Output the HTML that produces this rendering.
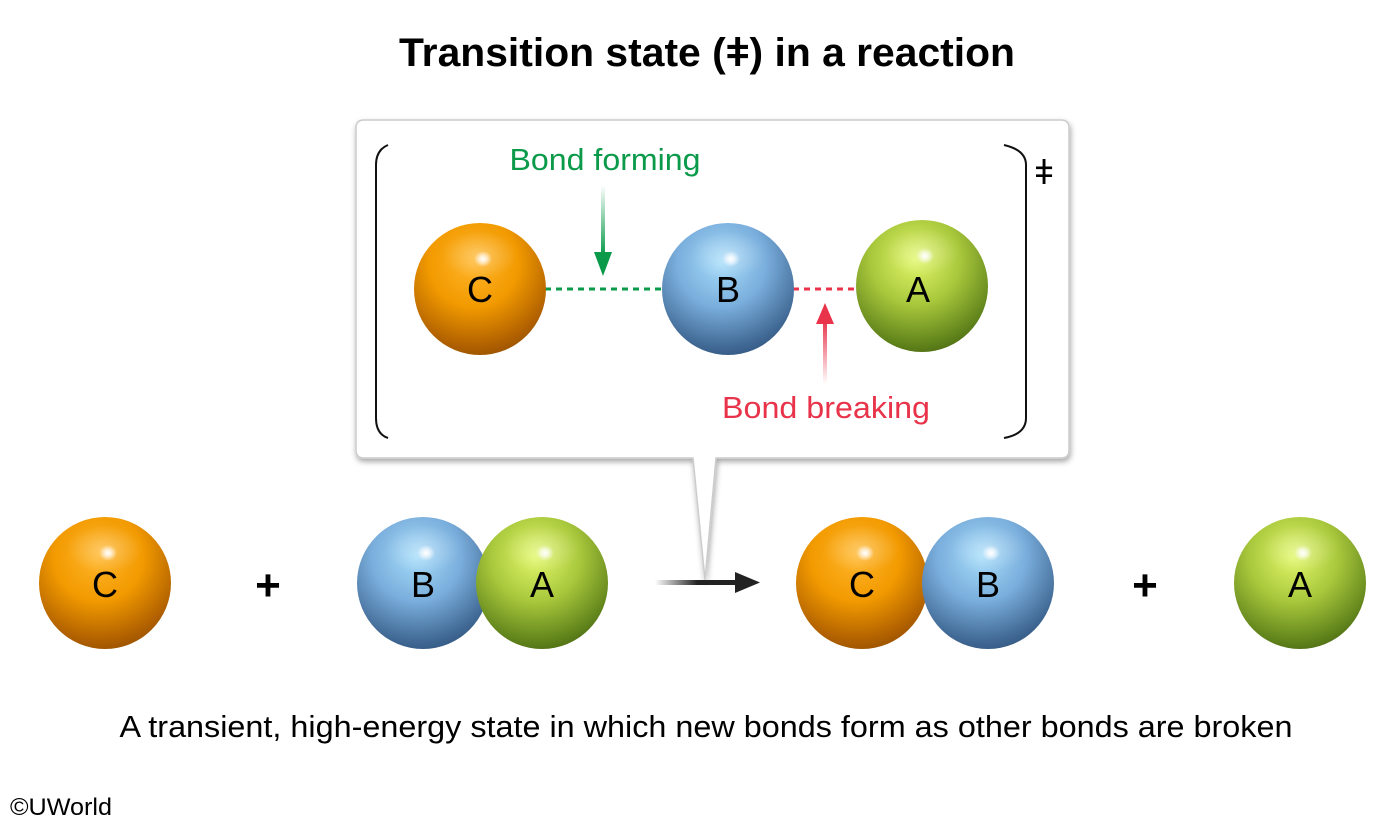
<!DOCTYPE html>
<html><head><meta charset="utf-8"><style>
html,body{margin:0;padding:0;background:#fff;width:1400px;height:826px;overflow:hidden}
svg{display:block}
text{font-family:"Liberation Sans",sans-serif}
</style></head><body>
<svg width="1400" height="826" viewBox="0 0 1400 826" xmlns="http://www.w3.org/2000/svg">
<defs>
<radialGradient id="o" cx="0.45" cy="0.3" r="0.75">
<stop offset="0" stop-color="#ffb52a"/><stop offset="0.45" stop-color="#f29a00"/><stop offset="0.85" stop-color="#b06000"/><stop offset="1" stop-color="#955000"/></radialGradient>
<radialGradient id="b" cx="0.45" cy="0.3" r="0.75">
<stop offset="0" stop-color="#a6dcfa"/><stop offset="0.45" stop-color="#7aaedc"/><stop offset="0.85" stop-color="#426a96"/><stop offset="1" stop-color="#30557e"/></radialGradient>
<radialGradient id="g" cx="0.45" cy="0.3" r="0.75">
<stop offset="0" stop-color="#e2f76a"/><stop offset="0.45" stop-color="#a9c83c"/><stop offset="0.85" stop-color="#62851c"/><stop offset="1" stop-color="#4b6912"/></radialGradient>
<radialGradient id="hl" cx="0.5" cy="0.5" r="0.5">
<stop offset="0" stop-color="#fff" stop-opacity="1"/><stop offset="0.4" stop-color="#fff" stop-opacity="0.7"/><stop offset="1" stop-color="#fff" stop-opacity="0"/></radialGradient>
<radialGradient id="hl2" cx="0.5" cy="0.5" r="0.5">
<stop offset="0" stop-color="#fff" stop-opacity="0.3"/><stop offset="1" stop-color="#fff" stop-opacity="0"/></radialGradient>
<linearGradient id="ga" x1="0" y1="0" x2="0" y2="1"><stop offset="0" stop-color="#0a9a4a" stop-opacity="0"/><stop offset="1" stop-color="#0a9a4a"/></linearGradient>
<linearGradient id="ra" x1="0" y1="1" x2="0" y2="0"><stop offset="0" stop-color="#e8334a" stop-opacity="0"/><stop offset="1" stop-color="#e8334a"/></linearGradient>
<linearGradient id="ka" x1="0" y1="0" x2="1" y2="0"><stop offset="0" stop-color="#222" stop-opacity="0"/><stop offset="0.5" stop-color="#222"/><stop offset="1" stop-color="#222"/></linearGradient>
<filter id="sh" x="-5%" y="-5%" width="110%" height="115%"><feDropShadow dx="1" dy="3" stdDeviation="3" flood-color="#000" flood-opacity="0.35"/></filter>
<g id="sC"><circle r="66" fill="url(#o)"/><ellipse cx="0" cy="-34" rx="38" ry="24" fill="url(#hl2)"/><ellipse cx="3" cy="-30" rx="9" ry="8" fill="url(#hl)"/></g>
<g id="sB"><circle r="66" fill="url(#b)"/><ellipse cx="0" cy="-34" rx="38" ry="24" fill="url(#hl2)"/><ellipse cx="3" cy="-30" rx="9" ry="8" fill="url(#hl)"/></g>
<g id="sA"><circle r="66" fill="url(#g)"/><ellipse cx="0" cy="-34" rx="38" ry="24" fill="url(#hl2)"/><ellipse cx="3" cy="-30" rx="9" ry="8" fill="url(#hl)"/></g>
</defs>

<text x="707" y="66" text-anchor="middle" font-size="40" font-weight="bold" textLength="616" lengthAdjust="spacingAndGlyphs">Transition state (ǂ) in a reaction</text>

<path d="M364 120 H1061 Q1069 120 1069 128 V450 Q1069 458 1061 458 H716 L705 580 L693 458 H364 Q356 458 356 450 V128 Q356 120 364 120 Z" fill="#fff" stroke="#ccc" stroke-width="1.5" filter="url(#sh)"/>
<path d="M388 145 Q376 150 376 165 V418 Q376 434 388 438" fill="none" stroke="#111" stroke-width="2"/>
<path d="M1004 145 Q1026 150 1026 165 V418 Q1026 434 1004 438" fill="none" stroke="#111" stroke-width="2"/>
<text x="1044" y="184" text-anchor="middle" font-size="34">ǂ</text>

<line x1="545" y1="289" x2="662" y2="289" stroke="#0a9a4a" stroke-width="3" stroke-dasharray="6,5"/>
<line x1="793" y1="289" x2="857" y2="289" stroke="#e8334a" stroke-width="3" stroke-dasharray="6,5"/>
<use href="#sC" x="480" y="289"/><text x="480" y="302" text-anchor="middle" font-size="36">C</text>
<use href="#sB" x="728" y="289"/><text x="728" y="302" text-anchor="middle" font-size="36">B</text>
<use href="#sA" x="922" y="286"/><text x="918" y="302" text-anchor="middle" font-size="36">A</text>

<text x="605" y="170" text-anchor="middle" font-size="31" fill="#0a9a4a" textLength="191" lengthAdjust="spacingAndGlyphs">Bond forming</text>
<rect x="601" y="185" width="4" height="70" fill="url(#ga)"/>
<polygon points="594,252 612,252 603,276" fill="#0a9a4a"/>
<text x="826" y="418" text-anchor="middle" font-size="31" fill="#e8334a" textLength="208" lengthAdjust="spacingAndGlyphs">Bond breaking</text>
<rect x="823" y="320" width="4" height="64" fill="url(#ra)"/>
<polygon points="816,324 834,324 825,303" fill="#e8334a"/>

<use href="#sC" x="105" y="583"/><text x="105" y="597" text-anchor="middle" font-size="36">C</text>
<text x="268" y="600" text-anchor="middle" font-size="44" font-weight="bold">+</text>
<use href="#sB" x="423" y="583"/>
<use href="#sA" x="542" y="583"/>
<text x="423" y="597" text-anchor="middle" font-size="36">B</text>
<text x="542" y="597" text-anchor="middle" font-size="36">A</text>
<rect x="655" y="580" width="85" height="5" fill="url(#ka)"/>
<polygon points="735,572 760,582.5 735,593" fill="#222"/>
<use href="#sC" x="862" y="583"/>
<use href="#sB" x="988" y="583"/>
<text x="862" y="597" text-anchor="middle" font-size="36">C</text>
<text x="988" y="597" text-anchor="middle" font-size="36">B</text>
<text x="1145" y="600" text-anchor="middle" font-size="44" font-weight="bold">+</text>
<use href="#sA" x="1300" y="583"/><text x="1300" y="597" text-anchor="middle" font-size="36">A</text>

<text x="706" y="737" text-anchor="middle" font-size="31" textLength="1173" lengthAdjust="spacingAndGlyphs">A transient, high-energy state in which new bonds form as other bonds are broken</text>
<text x="10" y="815" font-size="24" textLength="102" lengthAdjust="spacingAndGlyphs">©UWorld</text>
</svg>
</body></html>
